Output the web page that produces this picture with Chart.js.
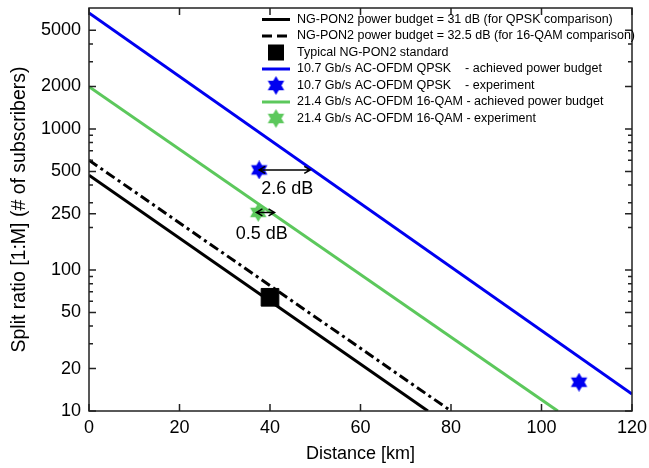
<!DOCTYPE html>
<html>
<head>
<meta charset="utf-8">
<script src="https://cdn.jsdelivr.net/npm/chart.js@4.4.1/dist/chart.umd.min.js"></script>
<style>
  html, body { margin: 0; padding: 0; background: #fff; }
</style>
</head>
<body>
<canvas id="chart" width="649" height="468"></canvas>
<script>
// values
const budget31Km = [0, 74.9];
const budget31Split = [470, 10];
const budget325Km = [0, 80];
const budget325Split = [600, 10];
const qpskBudgetKm = [0, 120];
const qpskBudgetSplit = [6650, 13.2];
const qamBudgetKm = [0, 103.6];
const qamBudgetSplit = [1990, 10];
const standardKm = [40];
const standardSplit = [64];
const qpskExpKm = [37.6, 108.3];
const qpskExpSplit = [512, 16];
const qamExpKm = [37.4];
const qamExpSplit = [256];

// margin arrows and their labels
const gapStartKm = [37.6, 37.0];
const gapEndKm = [48.9, 41.0];
const gapSplit = [512, 256];
const gapText = ['2.6 dB', '0.5 dB'];
const gapTextKm = [43.8, 38.2];
const gapTextSplit = [375, 180];

const xTicks = [0, 20, 40, 60, 80, 100, 120];
const yTicks = [10, 20, 50, 100, 250, 500, 1000, 2000, 5000];
const yMinorTicks = [30, 40, 60, 70, 80, 90, 200, 300, 400, 600, 700, 800, 900, 3000, 4000];

const BLUE = '#0000f0';
const GREEN = '#5cc85c';
const FONT = "'Liberation Sans', Arial, Helvetica, sans-serif";

function pts(xs, ys) { return xs.map((x, i) => ({ x: x, y: ys[i] })); }

// six-pointed star used as point style
function makeStar(color, size) {
  const c = document.createElement('canvas');
  c.width = size; c.height = size;
  const g = c.getContext('2d');
  const r = size / 2;
  g.fillStyle = color;
  [0, Math.PI].forEach(rot => {
    g.beginPath();
    for (let k = 0; k < 3; k++) {
      const a = rot - Math.PI / 2 + k * 2 * Math.PI / 3;
      const px = r + r * Math.cos(a), py = r + r * Math.sin(a);
      if (k) g.lineTo(px, py); else g.moveTo(px, py);
    }
    g.closePath();
    g.fill();
  });
  return c;
}

const blueStar = makeStar(BLUE, 19);
const greenStar = makeStar(GREEN, 19);

const datasets = [
  { label: 'NG-PON2 power budget = 31 dB (for QPSK comparison)', data: pts(budget31Km, budget31Split),
    showLine: true, borderColor: '#000', borderWidth: 3, pointRadius: 0 },
  { label: 'NG-PON2 power budget = 32.5 dB (for 16-QAM comparison)', data: pts(budget325Km, budget325Split),
    showLine: true, borderColor: '#000', borderWidth: 3, borderDash: [10, 4, 3, 4], pointRadius: 0 },
  { label: 'Typical NG-PON2 standard', data: pts(standardKm, standardSplit),
    pointStyle: 'rect', pointRadius: 12.5, backgroundColor: '#000', borderColor: '#000', order: -1 },
  { label: '10.7 Gb/s AC-OFDM QPSK    - achieved power budget', data: pts(qpskBudgetKm, qpskBudgetSplit),
    showLine: true, borderColor: BLUE, borderWidth: 3, pointRadius: 0 },
  { label: '10.7 Gb/s AC-OFDM QPSK    - experiment', data: pts(qpskExpKm, qpskExpSplit),
    pointStyle: blueStar, pointRadius: 9, backgroundColor: BLUE, borderColor: BLUE, order: -1 },
  { label: '21.4 Gb/s AC-OFDM 16-QAM - achieved power budget', data: pts(qamBudgetKm, qamBudgetSplit),
    showLine: true, borderColor: GREEN, borderWidth: 3, pointRadius: 0 },
  { label: '21.4 Gb/s AC-OFDM 16-QAM - experiment', data: pts(qamExpKm, qamExpSplit),
    pointStyle: greenStar, pointRadius: 9, backgroundColor: GREEN, borderColor: GREEN, order: -1 }
];

// frame with inward ticks on all four sides
const framePlugin = {
  id: 'frame',
  afterDatasetsDraw(chart) {
    const { ctx, chartArea: a, scales: { x, y } } = chart;
    ctx.save();
    ctx.strokeStyle = '#222';
    ctx.lineWidth = 1.5;
    ctx.strokeRect(a.left, a.top, a.right - a.left, a.bottom - a.top);
    ctx.beginPath();
    xTicks.forEach(v => {
      const px = x.getPixelForValue(v);
      ctx.moveTo(px, a.bottom); ctx.lineTo(px, a.bottom - 7);
      ctx.moveTo(px, a.top); ctx.lineTo(px, a.top + 7);
    });
    yTicks.forEach(v => {
      const py = y.getPixelForValue(v);
      ctx.moveTo(a.left, py); ctx.lineTo(a.left + 7, py);
      ctx.moveTo(a.right, py); ctx.lineTo(a.right - 7, py);
    });
    yMinorTicks.forEach(v => {
      const py = y.getPixelForValue(v);
      ctx.moveTo(a.left, py); ctx.lineTo(a.left + 4, py);
      ctx.moveTo(a.right, py); ctx.lineTo(a.right - 4, py);
    });
    ctx.stroke();

    // double arrows for the measured margins
    ctx.strokeStyle = '#000';
    ctx.lineWidth = 1.5;
    gapSplit.forEach((s, i) => {
      const py = y.getPixelForValue(s);
      const x0 = x.getPixelForValue(gapStartKm[i]);
      const x1 = x.getPixelForValue(gapEndKm[i]);
      ctx.beginPath();
      ctx.moveTo(x0, py); ctx.lineTo(x1, py);
      ctx.moveTo(x0 + 6, py - 3.5); ctx.lineTo(x0, py); ctx.lineTo(x0 + 6, py + 3.5);
      ctx.moveTo(x1 - 6, py - 3.5); ctx.lineTo(x1, py); ctx.lineTo(x1 - 6, py + 3.5);
      ctx.stroke();
    });
    ctx.fillStyle = '#000';
    ctx.font = '18px ' + FONT;
    ctx.textAlign = 'center';
    ctx.textBaseline = 'middle';
    gapText.forEach((t, i) => {
      ctx.fillText(t, x.getPixelForValue(gapTextKm[i]), y.getPixelForValue(gapTextSplit[i]));
    });
    ctx.restore();
  },
  afterDraw(chart) {
    // legend inside the top right of the plot
    const ctx = chart.ctx;
    const x0 = 262, x1 = 290, tx = 297;
    ctx.save();
    ctx.font = '12.5px ' + FONT;
    ctx.textBaseline = 'middle';
    ctx.textAlign = 'left';
    chart.data.datasets.forEach((ds, i) => {
      const yy = 19.5 + i * 16.5;
      const mid = (x0 + x1) / 2;
      if (ds.showLine) {
        ctx.strokeStyle = ds.borderColor;
        ctx.lineWidth = 3;
        ctx.setLineDash(ds.borderDash ? [10, 5] : []);
        ctx.beginPath();
        ctx.moveTo(x0, yy); ctx.lineTo(x1, yy);
        ctx.stroke();
        ctx.setLineDash([]);
      } else if (ds.pointStyle === 'rect') {
        ctx.fillStyle = '#000';
        ctx.fillRect(mid - 8, yy - 8, 16, 16);
      } else {
        ctx.drawImage(ds.pointStyle, mid - 9.5, yy - 9.5);
      }
      ctx.fillStyle = '#000';
      ctx.fillText(ds.label, tx, yy);
    });
    ctx.restore();
  }
};

new Chart(document.getElementById('chart'), {
  type: 'scatter',
  data: { datasets: datasets },
  options: {
    responsive: false,
    animation: false,
    layout: { autoPadding: false, padding: { top: 8, right: 17, left: 0, bottom: 0 } },
    plugins: { legend: { display: false }, tooltip: { enabled: false } },
    scales: {
      x: {
        type: 'linear', min: 0, max: 120,
        grid: { display: false, drawTicks: false },
        border: { display: false },
        afterBuildTicks: s => { s.ticks = xTicks.map(v => ({ value: v })); },
        afterFit: s => { s.height = 57; s.paddingLeft = 0; s.paddingRight = 0; },
        ticks: { color: '#000', font: { size: 18, family: FONT }, padding: 6, maxRotation: 0 },
        title: { display: true, text: 'Distance [km]', color: '#000', font: { size: 18, family: FONT }, padding: { top: 0, bottom: 3 } }
      },
      y: {
        type: 'logarithmic', min: 10, max: 7200,
        grid: { display: false, drawTicks: false },
        border: { display: false },
        afterBuildTicks: s => { s.ticks = yTicks.map(v => ({ value: v })); },
        afterFit: s => { s.width = 89; s.paddingTop = 0; s.paddingBottom = 0; },
        ticks: { color: '#000', font: { size: 18, family: FONT }, padding: 8, callback: v => String(v) },
        title: { display: true, text: 'Split ratio [1:M] (# of subscribers)', color: '#000', font: { size: 19.5, family: FONT }, padding: { top: 8, bottom: 0 } }
      }
    }
  },
  plugins: [framePlugin]
});
</script>
</body>
</html>
